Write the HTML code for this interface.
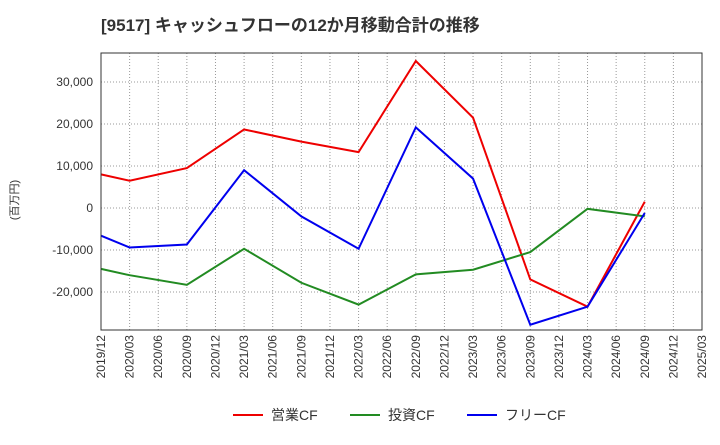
<!DOCTYPE html>
<html><head><meta charset="utf-8"><style>
body{margin:0;background:#fff;font-family:"Liberation Sans","Noto Sans CJK JP",sans-serif;}
</style></head><body>
<svg id="c" width="720" height="440" xmlns="http://www.w3.org/2000/svg">
<text x="101" y="31" font-size="17" font-weight="bold" fill="#333">[9517]  キャッシュフローの12か月移動合計の推移</text>
<text transform="translate(18,200) rotate(-90)" font-size="11" fill="#333" text-anchor="middle">(百万円)</text>
<g id="grid"></g><g id="yt"></g><g id="xt"></g><g id="series"></g>
<rect x="101" y="53" width="601" height="277" fill="none" stroke="#333"/>
<g>
<line x1="233" y1="415" x2="263" y2="415" stroke="#e00" stroke-width="2"/><text x="271" y="420" font-size="14" fill="#333">営業CF</text>
<line x1="350" y1="415" x2="380" y2="415" stroke="#228b22" stroke-width="2"/><text x="388" y="420" font-size="14" fill="#333">投資CF</text>
<line x1="467" y1="415" x2="497" y2="415" stroke="#00e" stroke-width="2"/><text x="505" y="420" font-size="14" fill="#333">フリーCF</text>
</g>
</svg>
<script>
const xLabels=["2019/12","2020/03","2020/06","2020/09","2020/12","2021/03","2021/06","2021/09","2021/12","2022/03","2022/06","2022/09","2022/12","2023/03","2023/06","2023/09","2023/12","2024/03","2024/06","2024/09","2024/12","2025/03"];
const yTicks=[-20000,-10000,0,10000,20000,30000];
const seriesX=[0,1,3,5,7,9,11,13,15,17,19];
const operatingCF=[8000,6500,9500,18700,15800,13300,35000,21500,-17000,-23500,1500];
const investingCF=[-14500,-16000,-18300,-9700,-17800,-23000,-15800,-14700,-10500,-200,-2000];
const freeCF=[-6600,-9400,-8700,9000,-2000,-9700,19200,7000,-27800,-23500,-1200];
const NS="http://www.w3.org/2000/svg";
const X=i=>101+i*601/21, Y=v=>208-v*42/10000;
function mk(t,a,p){const e=document.createElementNS(NS,t);for(const k in a)e.setAttribute(k,a[k]);p.appendChild(e);return e;}
const g=document.getElementById('grid'),yt=document.getElementById('yt'),xt=document.getElementById('xt'),s=document.getElementById('series');
xLabels.forEach((l,i)=>{
 const ln=mk('line',{x1:X(i),x2:X(i),y1:53,y2:330,stroke:'#999','stroke-dasharray':'1,2'},g);
 
 
 const t=mk('text',{transform:`translate(${X(i)+4},335) rotate(-90)`,'font-size':12,fill:'#333','text-anchor':'end'},xt);
 t.textContent=l;
 
 
});
yTicks.forEach(v=>{
 const ln=mk('line',{x1:101,x2:702,y1:Y(v),y2:Y(v),stroke:'#999','stroke-dasharray':'1,2'},g);
 
 
 const t=mk('text',{x:93,y:Y(v)+4,'font-size':12,fill:'#333','text-anchor':'end'},yt);
 t.textContent=v.toLocaleString('en-US');
 
 
});
[[operatingCF,'#e00','operating-cf-line'],[investingCF,'#228b22','investing-cf-line'],[freeCF,'#00e','free-cf-line']].forEach(([d,c,n])=>{
 const p=mk('polyline',{points:d.map((v,i)=>X(seriesX[i])+','+Y(v)).join(' '),fill:'none',stroke:c,'stroke-width':2},s);
 
 
});
</script>
</body></html>
